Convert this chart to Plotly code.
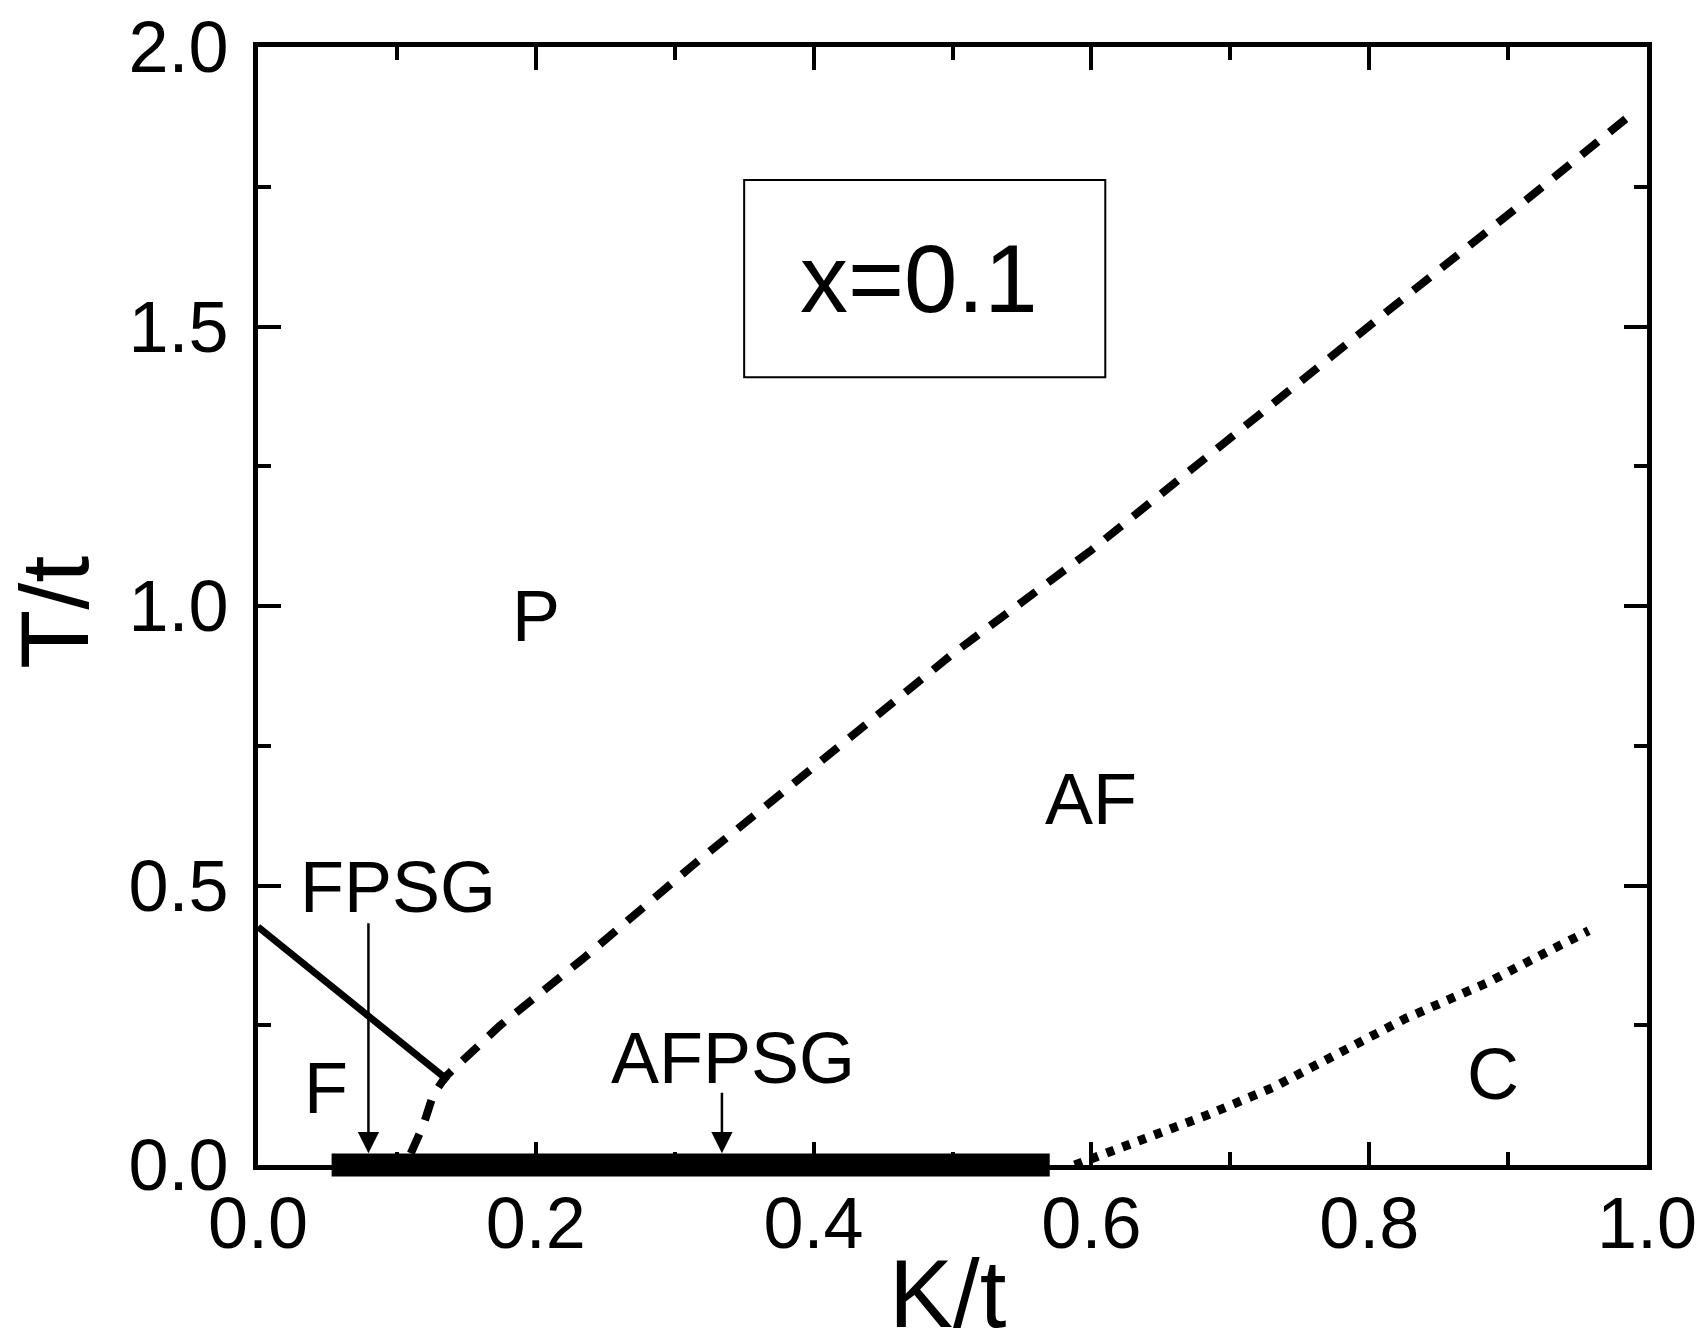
import plotly.graph_objects as go

# ---- data ----
# solid boundary F / P
solid_k = [0.0, 0.0795, 0.124, 0.137]
solid_t = [0.426, 0.265, 0.178, 0.151]

# dashed boundary (P / AF and F / AFPSG)
dash_k = [0.110, 0.119, 0.126, 0.135, 0.174, 0.234, 0.312, 0.400, 0.500, 0.600, 0.648, 0.750, 0.826, 0.900, 0.986]
dash_t = [0.021, 0.071, 0.125, 0.158, 0.249, 0.369, 0.534, 0.710, 0.914, 1.100, 1.197, 1.400, 1.553, 1.700, 1.874]

# dotted boundary AF / C
dot_k = [0.588, 0.636, 0.683, 0.731, 0.779, 0.802, 0.826, 0.850, 0.885, 0.909, 0.935, 0.958]
dot_t = [0.000, 0.043, 0.089, 0.139, 0.201, 0.232, 0.262, 0.288, 0.326, 0.357, 0.390, 0.419]

# ground-state phase-separated region on T=0
psg_k = [0.053, 0.570]

# arrows: (k, tip T, tail T)
arrow_k = [0.0795, 0.334]
arrow_tip_t = [0.021, 0.021]
arrow_tail_t = [0.435, 0.132]

# region labels
label_text = ["P", "AF", "C", "F", "FPSG", "AFPSG"]
label_k = [0.200, 0.600, 0.889, 0.049, 0.101, 0.342]
label_t = [0.983, 0.654, 0.162, 0.137, 0.497, 0.191]

# inset box with doping value
box_text = "x=0.1"
box_k = [0.350, 0.610]
box_t = [1.409, 1.762]

# axis titles
x_title = "K/t"
y_title = "T/t"

x_ticks = [0.0, 0.2, 0.4, 0.6, 0.8, 1.0]
y_ticks = [0.0, 0.5, 1.0, 1.5, 2.0]

FONT = "Arial, Liberation Sans, Helvetica, sans-serif"

fig = go.Figure()
fig.add_trace(go.Scatter(x=solid_k, y=solid_t, mode="lines",
                         line=dict(color="black", width=7), showlegend=False))
fig.add_trace(go.Scatter(x=dash_k, y=dash_t, mode="lines",
                         line=dict(color="black", width=8, dash="21px,15px"), showlegend=False))
fig.add_trace(go.Scatter(x=dot_k, y=dot_t, mode="lines",
                         line=dict(color="black", width=9, dash="8px,9px"), showlegend=False))

# thick bar on T=0 (y in axis-domain coordinates so it is not clipped)
fig.add_shape(type="line", xref="x", yref="y domain", x0=psg_k[0], x1=psg_k[1], y0=0, y1=0,
              line=dict(color="black", width=23))

# inset box
fig.add_shape(type="rect", xref="x", yref="y", x0=box_k[0], x1=box_k[1], y0=box_t[0], y1=box_t[1],
              line=dict(color="black", width=2), fillcolor="rgba(0,0,0,0)")
fig.add_annotation(x=(box_k[0] + box_k[1]) / 2 - 0.004, y=(box_t[0] + box_t[1]) / 2, text=box_text,
                   showarrow=False, font=dict(family=FONT, size=96, color="black"))

for k, tip, tail in zip(arrow_k, arrow_tip_t, arrow_tail_t):
    fig.add_annotation(x=k, y=tip, ax=k, ay=tail, xref="x", yref="y", axref="x", ayref="y",
                       text="", showarrow=True, arrowhead=2, arrowsize=1.7, arrowwidth=2.5,
                       arrowcolor="black", standoff=0, startstandoff=0)

for txt, k, t in zip(label_text, label_k, label_t):
    fig.add_annotation(x=k, y=t, text=txt, showarrow=False,
                       font=dict(family=FONT, size=72, color="black"))

# axis titles placed as annotations (axis titles are clamped inside the margins)
fig.add_annotation(xref="paper", yref="paper", x=0.4964, y=-0.1145, text=x_title,
                   showarrow=False, xanchor="center", yanchor="middle",
                   font=dict(family=FONT, size=96, color="black"))
fig.add_annotation(xref="paper", yref="paper", x=-0.1465, y=0.4942, text=y_title, textangle=-90,
                   showarrow=False, xanchor="center", yanchor="middle",
                   font=dict(family=FONT, size=97, color="black"))

axis_common = dict(
    showgrid=False, zeroline=False, showline=True, linecolor="black", linewidth=5,
    mirror="ticks", ticks="inside", ticklen=23, tickwidth=4, tickcolor="black",
    tickfont=dict(family=FONT, size=72, color="black"),
    automargin=False, ticklabeloverflow="allow",
)

fig.update_xaxes(range=[0, 1], tickvals=x_ticks, ticktext=[f"{v:.1f}" for v in x_ticks],
                 minor=dict(dtick=0.1, ticklen=13, tickwidth=4, tickcolor="black", ticks="inside"),
                 ticklabelstandoff=-8, **axis_common)
fig.update_yaxes(range=[0, 2], tickvals=y_ticks, ticktext=[f"{v:.1f}" for v in y_ticks],
                 minor=dict(dtick=0.25, ticklen=13, tickwidth=4, tickcolor="black", ticks="inside"),
                 ticklabelstandoff=10, **axis_common)

# the page body adds an 8px offset, so the figure is 8px smaller than the window
fig.update_layout(
    width=1699, height=1325,
    margin=dict(l=250, r=60, t=39, b=168),
    plot_bgcolor="white", paper_bgcolor="white",
    showlegend=False,
)

fig.write_html("out.html")
